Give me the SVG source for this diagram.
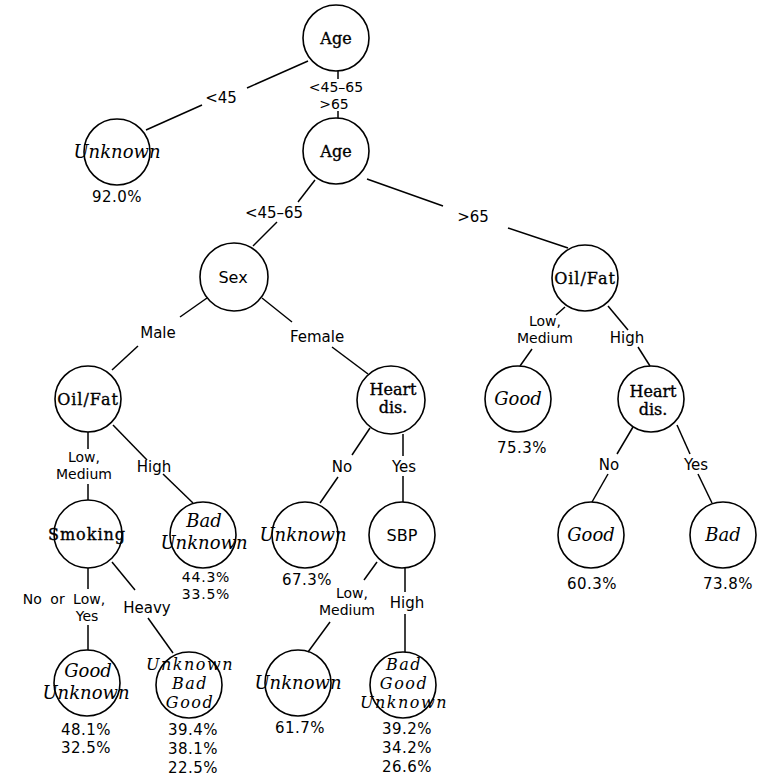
<svg xmlns="http://www.w3.org/2000/svg" width="757" height="782" viewBox="0 0 757 782">
<style>
.n{fill:none;stroke:#000;stroke-width:1.6}
.c line{stroke:#000;stroke-width:1.5}
.t{font-family:"DejaVu Serif",serif;font-size:16px;text-anchor:middle;fill:#000;stroke:#000;stroke-width:0.35}
.it{font-family:"DejaVu Serif",serif;font-style:italic;font-size:18px;text-anchor:middle;fill:#000}
.i3{font-family:"DejaVu Serif",serif;font-style:italic;font-size:16px;text-anchor:middle;fill:#000;letter-spacing:1.5px}
.s{font-family:"DejaVu Sans",sans-serif;font-size:15px;text-anchor:middle;fill:#000}
.s2{font-family:"DejaVu Sans",sans-serif;font-size:14px;text-anchor:middle;fill:#000}
.p{font-family:"DejaVu Sans",sans-serif;font-size:15px;text-anchor:middle;fill:#000;letter-spacing:0.5px}
.p2{font-family:"DejaVu Sans",sans-serif;font-size:14px;text-anchor:middle;fill:#000;letter-spacing:0.8px}
</style>
<rect width="757" height="782" fill="#fff"/>
<g id="connectors" class="c">
<line x1="308" y1="61" x2="247" y2="88"/>
<line x1="202" y1="105" x2="146" y2="130"/>
<line x1="338" y1="71" x2="338" y2="79"/>
<line x1="338" y1="111" x2="338" y2="118"/>
<line x1="315" y1="180" x2="298" y2="202"/>
<line x1="277" y1="222" x2="253" y2="246"/>
<line x1="367" y1="179" x2="443" y2="206"/>
<line x1="508" y1="228" x2="568" y2="248"/>
<line x1="207" y1="298" x2="180" y2="317"/>
<line x1="138" y1="346" x2="112" y2="370"/>
<line x1="262" y1="298" x2="292" y2="322"/>
<line x1="332" y1="347" x2="368" y2="374"/>
<line x1="565" y1="307" x2="556" y2="315"/>
<line x1="532" y1="349" x2="520" y2="366"/>
<line x1="608" y1="306" x2="628" y2="330"/>
<line x1="638" y1="347" x2="650" y2="366"/>
<line x1="633" y1="427" x2="617" y2="454"/>
<line x1="608" y1="474" x2="592" y2="502"/>
<line x1="677" y1="425" x2="690" y2="454"/>
<line x1="698" y1="474" x2="712" y2="503"/>
<line x1="88" y1="432" x2="88" y2="449"/>
<line x1="88" y1="484" x2="88" y2="500"/>
<line x1="113" y1="425" x2="147" y2="460"/>
<line x1="163" y1="474" x2="193" y2="503"/>
<line x1="370" y1="428" x2="352" y2="455"/>
<line x1="338" y1="477" x2="320" y2="503"/>
<line x1="403" y1="434" x2="403" y2="456"/>
<line x1="403" y1="476" x2="403" y2="502"/>
<line x1="88" y1="568" x2="88" y2="589"/>
<line x1="88" y1="625" x2="88" y2="650"/>
<line x1="112" y1="562" x2="135" y2="590"/>
<line x1="148" y1="618" x2="173" y2="653"/>
<line x1="377" y1="562" x2="364" y2="580"/>
<line x1="330" y1="622" x2="308" y2="652"/>
<line x1="405" y1="568" x2="405" y2="592"/>
<line x1="405" y1="614" x2="405" y2="652"/>
<text class="s" x="221" y="103">&lt;45</text>
<text class="s2" x="336" y="92">&lt;45–65</text>
<text class="s2" x="334" y="109">&gt;65</text>
<text class="s" x="274" y="218">&lt;45–65</text>
<text class="s" x="473" y="222">&gt;65</text>
<text class="s" x="158" y="338">Male</text>
<text class="s" x="317" y="342">Female</text>
<text class="s2" x="545" y="326">Low,</text>
<text class="s2" x="545" y="343">Medium</text>
<text class="s" x="627" y="343">High</text>
<text class="s" x="609" y="470">No</text>
<text class="s" x="696" y="470">Yes</text>
<text class="s2" x="84" y="462">Low,</text>
<text class="s2" x="84" y="479">Medium</text>
<text class="s" x="154" y="472">High</text>
<text class="s" x="342" y="472">No</text>
<text class="s" x="404" y="472">Yes</text>
<text class="s2" x="64" y="604" style="word-spacing:4px">No or Low,</text>
<text class="s2" x="87" y="621">Yes</text>
<text class="s" x="147" y="613">Heavy</text>
<text class="s2" x="352" y="598">Low,</text>
<text class="s2" x="347" y="615">Medium</text>
<text class="s" x="407" y="608">High</text>
</g>
<g id="age1"><circle class="n" cx="336" cy="38" r="33"/><text class="t" x="336" y="44">Age</text></g>
<g id="age2"><circle class="n" cx="336" cy="151" r="33"/><text class="t" x="336" y="157">Age</text></g>
<g id="unknown1"><circle class="n" cx="117" cy="152" r="33"/><text class="it" x="117" y="158">Unknown</text><text class="p" x="117" y="202">92.0%</text></g>
<g id="sex"><circle class="n" cx="234" cy="277" r="34"/><text class="s" x="233" y="283" style="font-size:16px">Sex</text></g>
<g id="oilfat2"><circle class="n" cx="585" cy="278" r="33"/><text class="t" x="585" y="284" style="letter-spacing:1px">Oil/Fat</text></g>
<g id="oilfat1"><circle class="n" cx="88" cy="399" r="33"/><text class="t" x="88" y="405" style="letter-spacing:1px">Oil/Fat</text></g>
<g id="heart1"><circle class="n" cx="391" cy="400" r="34"/><text class="t" x="393" y="395">Heart</text><text class="t" x="393" y="413">dis.</text></g>
<g id="good1"><circle class="n" cx="518" cy="399" r="33"/><text class="it" x="518" y="405">Good</text><text class="p" x="522" y="453">75.3%</text></g>
<g id="heart2"><circle class="n" cx="651" cy="399" r="33"/><text class="t" x="653" y="397">Heart</text><text class="t" x="653" y="415">dis.</text></g>
<g id="smoking"><circle class="n" cx="88" cy="534" r="34"/><text class="t" x="87" y="540" style="letter-spacing:1px">Smoking</text></g>
<g id="badunknown"><circle class="n" cx="203" cy="535" r="33"/><text class="it" x="204" y="527">Bad</text><text class="it" x="204" y="549">Unknown</text><text class="p2" x="206" y="582">44.3%</text><text class="p2" x="206" y="599">33.5%</text></g>
<g id="unknown2"><circle class="n" cx="305" cy="535" r="33"/><text class="it" x="303" y="541">Unknown</text><text class="p" x="307" y="585">67.3%</text></g>
<g id="sbp"><circle class="n" cx="402" cy="535" r="33"/><text class="s" x="402" y="541" style="font-size:16px">SBP</text></g>
<g id="good2"><circle class="n" cx="591" cy="535" r="33"/><text class="it" x="591" y="541">Good</text><text class="p" x="592" y="589">60.3%</text></g>
<g id="bad"><circle class="n" cx="723" cy="535" r="33"/><text class="it" x="723" y="541">Bad</text><text class="p" x="728" y="589">73.8%</text></g>
<g id="goodunknown"><circle class="n" cx="87" cy="683" r="33"/><text class="it" x="88" y="677">Good</text><text class="it" x="86" y="699">Unknown</text><text class="p" x="86" y="735">48.1%</text><text class="p" x="86" y="753">32.5%</text></g>
<g id="unknownbadgood"><circle class="n" cx="189" cy="685" r="33"/><text class="i3" x="190" y="670">Unknown</text><text class="i3" x="190" y="689">Bad</text><text class="i3" x="190" y="708">Good</text><text class="p" x="193" y="735">39.4%</text><text class="p" x="193" y="754">38.1%</text><text class="p" x="193" y="773">22.5%</text></g>
<g id="unknown3"><circle class="n" cx="298" cy="683" r="33"/><text class="it" x="298" y="689">Unknown</text><text class="p" x="300" y="733">61.7%</text></g>
<g id="badgoodunknown"><circle class="n" cx="403" cy="685" r="33"/><text class="i3" x="404" y="670">Bad</text><text class="i3" x="404" y="689">Good</text><text class="i3" x="404" y="708">Unknown</text><text class="p" x="407" y="734">39.2%</text><text class="p" x="407" y="753">34.2%</text><text class="p" x="407" y="772">26.6%</text></g>
</svg>
